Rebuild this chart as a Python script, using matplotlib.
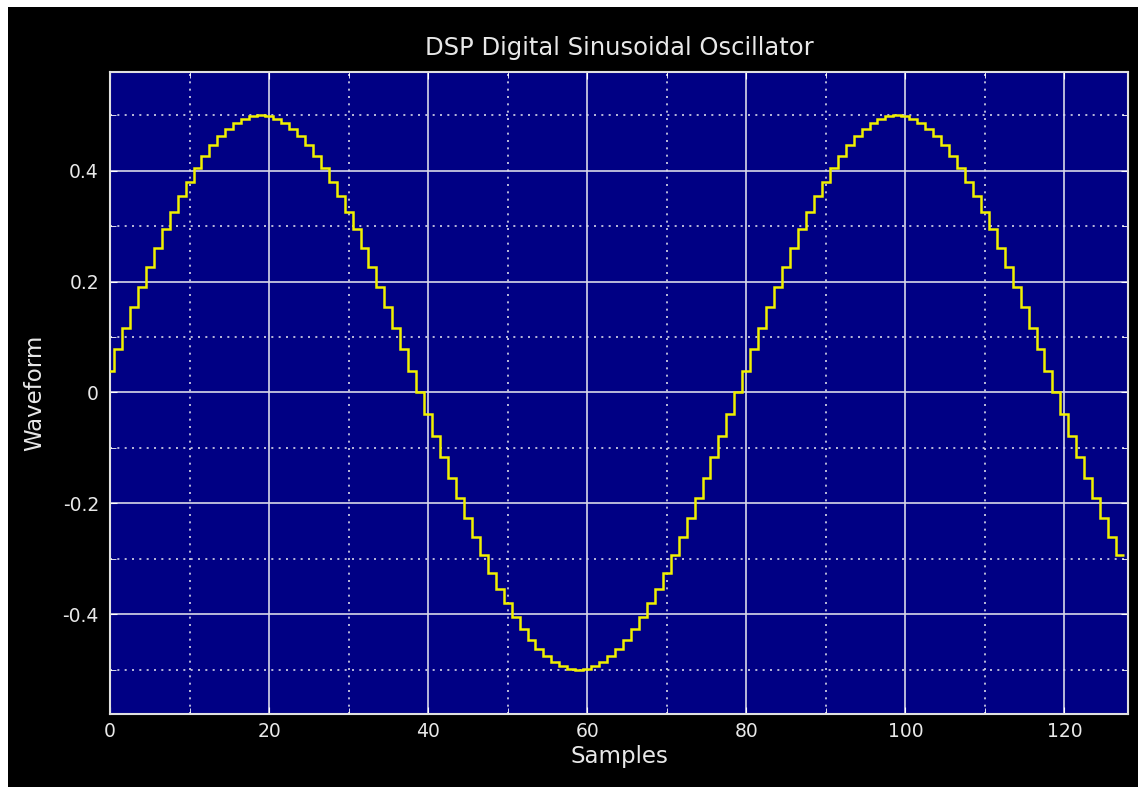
import matplotlib
matplotlib.use("Agg")
import matplotlib.pyplot as plt
from matplotlib.patches import Rectangle
from matplotlib.ticker import MultipleLocator
import numpy as np

# oscillator output, one value per sample
waveform = [
    0.039, 0.078, 0.117, 0.155, 0.191, 0.227, 0.261, 0.294, 0.325, 0.354,
    0.380, 0.405, 0.426, 0.446, 0.462, 0.476, 0.486, 0.494, 0.498, 0.500,
    0.498, 0.494, 0.486, 0.476, 0.462, 0.446, 0.426, 0.405, 0.380, 0.354,
    0.325, 0.294, 0.261, 0.227, 0.191, 0.155, 0.117, 0.078, 0.039, 0.0,
    -0.039, -0.078, -0.117, -0.155, -0.191, -0.227, -0.261, -0.294, -0.325, -0.354,
    -0.380, -0.405, -0.426, -0.446, -0.462, -0.476, -0.486, -0.494, -0.498, -0.500,
    -0.498, -0.494, -0.486, -0.476, -0.462, -0.446, -0.426, -0.405, -0.380, -0.354,
    -0.325, -0.294, -0.261, -0.227, -0.191, -0.155, -0.117, -0.078, -0.039, 0.0,
    0.039, 0.078, 0.117, 0.155, 0.191, 0.227, 0.261, 0.294, 0.325, 0.354,
    0.380, 0.405, 0.426, 0.446, 0.462, 0.476, 0.486, 0.494, 0.498, 0.500,
    0.498, 0.494, 0.486, 0.476, 0.462, 0.446, 0.426, 0.405, 0.380, 0.354,
    0.325, 0.294, 0.261, 0.227, 0.191, 0.155, 0.117, 0.078, 0.039, 0.0,
    -0.039, -0.078, -0.117, -0.155, -0.191, -0.227, -0.261, -0.294,
]
x_ticks = [0, 20, 40, 60, 80, 100, 120]
y_ticks = [-0.4, -0.2, 0, 0.2, 0.4]
y_tick_labels = ["-0.4", "-0.2", "0", "0.2", "0.4"]

title = "DSP Digital Sinusoidal Oscillator"
xlabel = "Samples"
ylabel = "Waveform"

plt.rcParams['font.family'] = ['DejaVu Sans']
plt.rcParams['axes.unicode_minus'] = False
txt = '#e8e8e8'

fig = plt.figure(figsize=(11.38, 7.87), dpi=100, facecolor='white')
# black scope window, with the thin white strip at top / left
fig.patches.append(Rectangle((8 / 1138, -0.01), 1.02, 1.01 - 7 / 787,
                             transform=fig.transFigure, facecolor='black',
                             edgecolor='none', zorder=-10))

ax = fig.add_axes([110 / 1138, 1 - 714 / 787, 1018 / 1138, 642 / 787])
ax.set_facecolor('#000084')

# zero-order hold: each sample is held for one sample period
edges = np.arange(len(waveform) + 1) - 0.5
ax.stairs(waveform, edges, color='#f0f000', linewidth=1.8, baseline=None, zorder=3)

ax.set_xlim(0, 128)
ax.set_ylim(-0.58, 0.578)

ax.set_xticks(x_ticks)
ax.set_yticks(y_ticks)
ax.set_yticklabels(y_tick_labels)
ax.xaxis.set_minor_locator(MultipleLocator(10))
ax.yaxis.set_minor_locator(MultipleLocator(0.1))

ax.grid(which='major', color='#d8d8e8', linestyle='-', linewidth=1.2, zorder=1)
ax.grid(which='minor', color='#d8d8e8', linestyle=(0, (1.2, 3.2)), linewidth=1.2, zorder=1)
ax.set_axisbelow(True)

ax.tick_params(which='both', direction='in', top=True, right=True,
               color='white', labelcolor=txt, labelsize=13.5)
ax.tick_params(axis='x', pad=6)
ax.tick_params(axis='y', pad=8)
ax.tick_params(which='major', length=5)
ax.tick_params(which='minor', length=4)
for sp in ax.spines.values():
    sp.set_color('#e0e0e0')
    sp.set_linewidth(1.5)

ax.set_title(title, color=txt, fontsize=17.5, pad=12)
ax.set_xlabel(xlabel, color=txt, fontsize=16.5, labelpad=3)
ax.set_ylabel(ylabel, color=txt, fontsize=16.5, labelpad=12)

fig.savefig("out.png", dpi=100, facecolor=fig.get_facecolor())
